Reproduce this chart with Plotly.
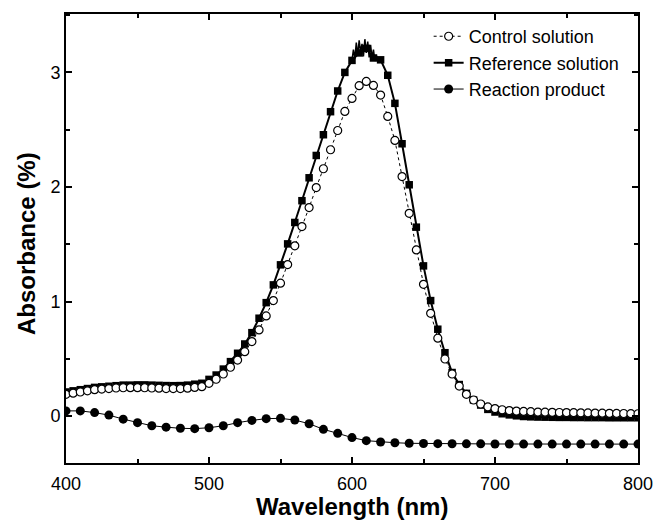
import plotly.graph_objects as go

# ---- data ----
wl_5nm = list(range(400, 805, 5))

control = [0.19, 0.20, 0.21, 0.22, 0.23, 0.235, 0.24, 0.245, 0.247, 0.248,
           0.248, 0.247, 0.245, 0.243, 0.240, 0.240, 0.240, 0.243, 0.250, 0.256,
           0.286, 0.321, 0.367, 0.426, 0.489, 0.562, 0.650, 0.752, 0.874, 1.008,
           1.160, 1.322, 1.486, 1.654, 1.820, 1.995, 2.159, 2.325, 2.493, 2.659,
           2.773, 2.884, 2.921, 2.886, 2.802, 2.616, 2.406, 2.091, 1.770, 1.450,
           1.150, 0.897, 0.680, 0.498, 0.367, 0.262, 0.190, 0.140, 0.105, 0.080,
           0.065, 0.055, 0.048, 0.043, 0.040, 0.038, 0.035, 0.034, 0.032, 0.031,
           0.030, 0.029, 0.028, 0.027, 0.026, 0.025, 0.024, 0.023, 0.022, 0.021,
           0.020]

reference = [0.21, 0.22, 0.23, 0.24, 0.25, 0.255, 0.26, 0.265, 0.27, 0.27,
             0.272, 0.272, 0.27, 0.268, 0.266, 0.265, 0.266, 0.27, 0.278, 0.286,
             0.320, 0.358, 0.410, 0.475, 0.548, 0.629, 0.728, 0.854, 0.990, 1.145,
             1.320, 1.503, 1.690, 1.880, 2.080, 2.275, 2.456, 2.657, 2.838, 3.000,
             3.105, 3.170, 3.210, 3.126, 3.110, 2.975, 2.730, 2.377, 2.019, 1.649,
             1.311, 1.008, 0.758, 0.553, 0.380, 0.275, 0.198, 0.140, 0.096, 0.058,
             0.035, 0.020, 0.010, 0.002, -0.004, -0.007, -0.009, -0.010, -0.011, -0.012,
             -0.012, -0.013, -0.013, -0.014, -0.014, -0.014, -0.015, -0.015, -0.015, -0.015,
             -0.015]

# noisy detail of the reference trace near its maximum
wl_peak = list(range(600, 619))
reference_peak = [3.105, 3.20, 3.12, 3.26, 3.15, 3.28, 3.18, 3.25, 3.14, 3.29,
                  3.17, 3.27, 3.13, 3.24, 3.126, 3.20, 3.10, 3.15, 3.11]

wl_10nm = list(range(400, 810, 10))
reaction = [0.045, 0.045, 0.030, 0.008, -0.027, -0.058, -0.085, -0.097, -0.107, -0.110,
            -0.102, -0.085, -0.058, -0.038, -0.023, -0.020, -0.035, -0.067, -0.116, -0.151,
            -0.188, -0.215, -0.227, -0.233, -0.238, -0.240, -0.241, -0.242, -0.243, -0.243,
            -0.244, -0.244, -0.245, -0.245, -0.245, -0.245, -0.245, -0.245, -0.245, -0.245,
            -0.245]

x_ticks = [400, 500, 600, 700, 800]
y_ticks = [0, 1, 2, 3]
x_title = "Wavelength (nm)"
y_title = "Absorbance (%)"

FONT = "Liberation Sans, Arial, Helvetica, sans-serif"

fig = go.Figure()

fig.add_trace(go.Scatter(
    x=wl_peak, y=reference_peak, mode="lines",
    line=dict(color="black", width=1.5), showlegend=False, hoverinfo="skip"))

fig.add_trace(go.Scatter(
    x=wl_5nm, y=reference, mode="lines+markers", name="Reference solution",
    line=dict(color="black", width=2),
    marker=dict(symbol="square", size=7.5, color="black"), legendrank=2))

fig.add_trace(go.Scatter(
    x=wl_10nm, y=reaction, mode="lines+markers", name="Reaction product",
    line=dict(color="black", width=1),
    marker=dict(symbol="circle", size=9, color="black"), legendrank=3))

fig.add_trace(go.Scatter(
    x=wl_5nm, y=control, mode="lines+markers", name="Control solution",
    line=dict(color="black", width=1, dash="dot"),
    marker=dict(symbol="circle", size=8, color="white",
                line=dict(color="black", width=1.2)), legendrank=1))

axis_common = dict(
    showline=True, linecolor="black", linewidth=2, mirror="allticks",
    ticks="inside", ticklen=6, tickwidth=1.5, tickcolor="black",
    showgrid=False, zeroline=False, automargin=False,
    tickfont=dict(family=FONT, size=18, color="black"),
)

fig.update_xaxes(
    range=[400, 800], tickvals=x_ticks, ticktext=[str(v) for v in x_ticks],
    minor=dict(dtick=50, ticks="inside", ticklen=4, tickwidth=1.5, tickcolor="black"),
    ticklabelstandoff=3,
    **axis_common)

fig.update_yaxes(
    range=[-0.41, 3.51], tickvals=y_ticks, ticktext=[str(v) for v in y_ticks],
    minor=dict(dtick=0.5, ticks="inside", ticklen=4, tickwidth=1.5, tickcolor="black"),
    **axis_common)

# axis titles placed as annotations to match the reference placement
fig.add_annotation(text="<b>" + x_title + "</b>", xref="paper", yref="paper",
                   x=0.5, y=-0.097, xanchor="center", yanchor="middle",
                   showarrow=False, font=dict(family=FONT, size=24, color="black"))
fig.add_annotation(text="<b>" + y_title + "</b>", xref="paper", yref="paper",
                   x=-0.068, y=0.488, xanchor="center", yanchor="middle", textangle=-90,
                   showarrow=False, font=dict(family=FONT, size=24, color="black"))

fig.update_layout(
    width=657, height=523,
    margin=dict(l=66, r=19, t=14, b=60),
    paper_bgcolor="white", plot_bgcolor="white",
    font=dict(family=FONT, size=18, color="black"),
    legend=dict(x=0.634, y=0.991, xanchor="left", yanchor="top",
                bgcolor="rgba(0,0,0,0)", borderwidth=0,
                font=dict(family=FONT, size=18, color="black"),
                tracegroupgap=0, itemwidth=30),
    showlegend=True,
)

fig.write_html("out.html",
               config={"displayModeBar": False},
               post_script="document.body.style.margin='0';document.body.style.padding='0';")
